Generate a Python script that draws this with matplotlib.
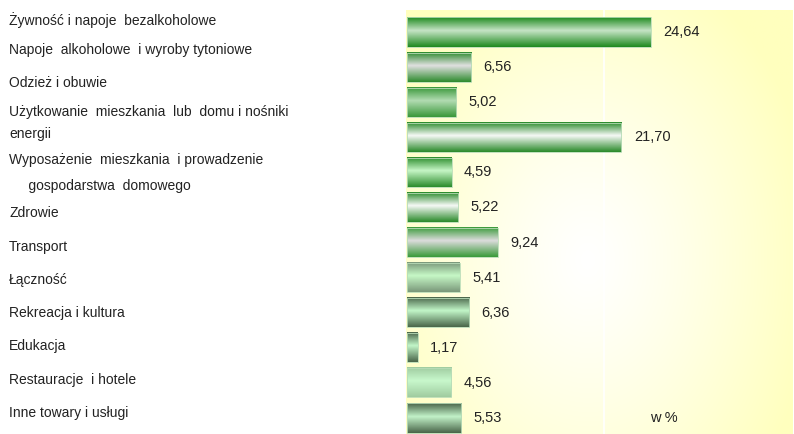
import numpy as np
import matplotlib
matplotlib.use("Agg")
import matplotlib.pyplot as plt
from matplotlib.colors import LinearSegmentedColormap, to_rgb

categories = [
    "Żywność i napoje  bezalkoholowe",
    "Napoje  alkoholowe  i wyroby tytoniowe",
    "Odzież i obuwie",
    "Użytkowanie  mieszkania  lub  domu i nośniki\nenergii",
    "Wyposażenie  mieszkania  i prowadzenie\n     gospodarstwa  domowego",
    "Zdrowie",
    "Transport",
    "Łączność",
    "Rekreacja i kultura",
    "Edukacja",
    "Restauracje  i hotele",
    "Inne towary i usługi",
]
values = [24.64, 6.56, 5.02, 21.70, 4.59, 5.22, 9.24, 5.41, 6.36, 1.17, 4.56, 5.53]
unit_label = "w %"

# bar gradient styles: (edge colour, centre colour)
bar_styles = [
    ("#1f8a1f", "#c6e4c6"),
    ("#2e8b2e", "#e0e0e0"),
    ("#3a983a", "#b2dcb2"),
    ("#2a8a2a", "#f6f9f6"),
    ("#2c8c2c", "#c6f6c6"),
    ("#2a8a2a", "#f6f9f6"),
    ("#3a9a3a", "#dcdcdc"),
    ("#7a987a", "#c6f8c6"),
    ("#4a664a", "#c2f6c8"),
    ("#4a664a", "#c2f6c8"),
    ("#a0cca0", "#c8f8cc"),
    ("#4a664a", "#c2f2c8"),
]
# label layout (pixel centres from top) and line spacing
label_y_px = [20, 50, 83, 123, 173, 213, 247, 280, 313, 346, 380, 413]
label_ls = [1, 1, 1, 1.74, 2.03, 1, 1, 1, 1, 1, 1, 1]

W, H = 794, 434
fig = plt.figure(figsize=(W / 100, H / 100), dpi=100)
fig.patch.set_facecolor("white")
ax = fig.add_axes([406 / W, 0, 387 / W, 1 - 10 / H])

n = len(values)
xmax = 39
ytop, ybot = -0.627, n - 1 + 0.456
ax.set_xlim(0, xmax)
ax.set_ylim(ybot, ytop)

# background: pale yellow with a white glow
gy, gx = np.mgrid[0:1:200j, 0:1:200j]
t = np.sqrt(((gx - 0.47) / 0.6) ** 2 + ((gy - 0.59) / 0.75) ** 2)
t = np.clip(t, 0, 1) ** 1.2
white = np.array([1.0, 1.0, 1.0])
yellow = np.array(to_rgb("#ffffbe"))
bg = white * (1 - t[..., None]) + yellow * t[..., None]
ax.imshow(bg, extent=[0, xmax, ybot, ytop], aspect="auto", zorder=0,
          interpolation="bilinear")

ax.axvline(20, color="white", lw=1.2, zorder=1)

h = 0.83
grad = np.linspace(0, 1, 100).reshape(-1, 1)
for i, (v, (edge, centre)) in enumerate(zip(values, bar_styles)):
    cmap = LinearSegmentedColormap.from_list(
        f"b{i}", [(0, edge), (0.45, centre), (1, edge)])
    ax.imshow(grad, cmap=cmap, extent=[0.08, v, i + h / 2, i - h / 2],
              aspect="auto", zorder=2, interpolation="bilinear")
    ax.add_patch(plt.Rectangle((0.08, i - h / 2), v - 0.08, h, fill=False,
                               edgecolor="#b8dcb8", lw=0.6, zorder=3))
    ax.annotate(f"{v:.2f}".replace(".", ","), (v, i), xytext=(9, 0),
                textcoords="offset points", va="center", ha="left",
                fontsize=10.5, color="#222222", family="Liberation Sans")

ax.text(24.6, n - 1, unit_label, va="center", ha="left", fontsize=10.5,
        color="#222222", family="Liberation Sans")

ax.set_xlim(0, xmax)
ax.set_ylim(ybot, ytop)
ax.axis("off")

for lab, ypx, ls in zip(categories, label_y_px, label_ls):
    fig.text(9 / W, 1 - ypx / H, lab, va="center", ha="left", fontsize=10,
             color="#222222", family="Liberation Sans", linespacing=ls)

fig.savefig("out.png", dpi=100)
